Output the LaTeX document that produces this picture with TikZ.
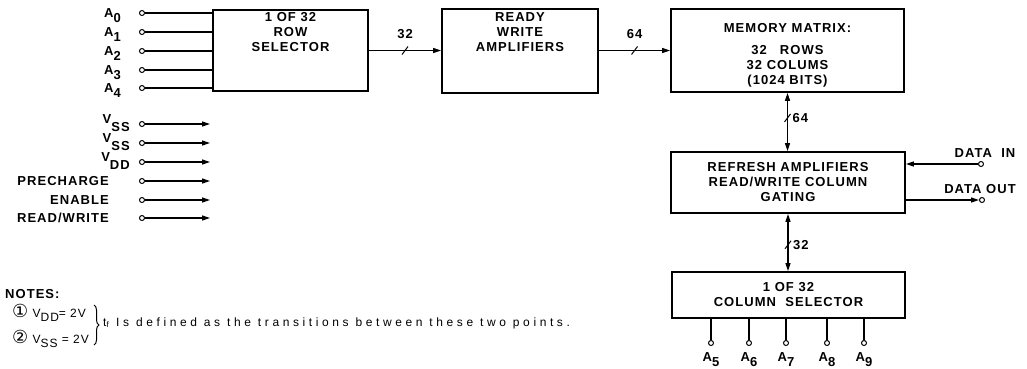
\documentclass[tikz,border=0pt]{standalone}
\usepackage{fontspec}
\setmainfont{Liberation Sans}[LetterSpace=8]
\newfontfamily\notefont{Liberation Sans}[LetterSpace=30]
\newfontfamily\symbolfont{DejaVu Sans}
\usetikzlibrary{arrows.meta, positioning, decorations.pathreplacing}
\newcommand\lowered[2][5pt]{\raisebox{-#1}{#2}}

\begin{document}
\begin{tikzpicture}[
    x=1pt, y=-1pt,
    >={Triangle[length=8pt, width=5pt]},
    font=\bfseries\fontsize{13}{15}\selectfont,
    block/.style={rectangle, draw, line width=1.8pt, align=center, inner sep=0pt},
    boxtext/.style={align=center, inner sep=0pt},
    lbl/.style={inner sep=0pt},
    notelbl/.style={inner sep=0pt, font=\mdseries\fontsize{12}{15}\selectfont},
    terminal/.style={circle, draw, line width=1pt, fill=white, inner sep=0pt, minimum size=5pt},
    wire/.style={line width=1.3pt},
    busmark/.pic={\draw[line width=1pt] (-3,4) -- (3,-4);}
]
\useasboundingbox (0,0) rectangle (1027,368);

% blocks
\node[block, minimum width=155pt, minimum height=81pt] (rowsel) at (290.5,50.5) {};
\node[boxtext, below=3pt of rowsel.north] (rowtxt) {1 OF 32\\ROW\\SELECTOR};
\node[block, minimum width=156pt, minimum height=84pt] (writeamp) at (520,51) {};
\node[boxtext, below=4pt of writeamp.north] (writetxt) {READY\\WRITE\\AMPLIFIERS};
\node[block, minimum width=233pt, minimum height=83pt] (memory) at (787.5,50.5) {};
\node[boxtext, below=15pt of memory.north] (memtxt) {MEMORY MATRIX:\\[7pt]32\quad ROWS\\32 COLUMS\\(1024 BITS)};
\node[block, minimum width=234pt, minimum height=61pt] (refresh) at (788,182.5)
    {REFRESH AMPLIFIERS\\READ/WRITE COLUMN\\GATING};
\node[block, minimum width=233pt, minimum height=46pt] (colsel) at (788.5,295)
    {1 OF 32\\COLUMN\ \ SELECTOR};

% address inputs
\foreach \i/\y in {0/13, 1/32, 2/51, 3/70, 4/88} {
    \node[terminal] (a\i) at (142,\y) {};
    \draw[wire] (a\i) -- (a\i -| rowsel.west);
    \node[lbl, anchor=base east] (alabel\i) at ([xshift=-21pt, yshift=-4pt]a\i.center) {A\lowered{\i}};
}
\foreach \n/\x in {5/711, 6/749, 7/786, 8/827, 9/864} {
    \node[terminal] (a\n) at (\x,343) {};
    \draw[wire] (a\n) -- (a\n |- colsel.south);
    \node[lbl, anchor=base] (alabel\n) at ([yshift=-18pt]a\n.center) {A\lowered{\n}};
}

% supply and control inputs
\foreach \i/\y/\txt in {1/124/SS, 2/143/SS, 3/162/DD} {
    \node[terminal] (v\i) at (142,\y) {};
    \coordinate (vend\i) at (210,\y);
    \draw[wire, ->] (v\i) -- (vend\i);
    \node[lbl, anchor=base east] (vlabel\i) at ([xshift=-12pt, yshift=1pt]v\i.center) {V\lowered[8pt]{\txt}};
}
\foreach \i/\y/\txt in {1/181/PRECHARGE, 2/200/ENABLE, 3/218/{READ/WRITE}} {
    \node[terminal] (c\i) at (142,\y) {};
    \coordinate (cend\i) at (210,\y);
    \draw[wire, ->] (c\i) -- (cend\i);
    \node[lbl, anchor=base east] (clabel\i) at ([xshift=-33pt, yshift=-4pt]c\i.center) {\txt};
}

% buses
\draw[wire, ->] (rowsel.east) -- coordinate[pos=0.5] (bus32) (rowsel.east -| writeamp.west);
\pic at (bus32) {busmark};
\node[lbl, above=12pt of bus32] (bus32lbl) {32};
\draw[wire, ->] (writeamp.east |- memory.west) -- coordinate[pos=0.5] (bus64) (memory.west);
\pic at (bus64) {busmark};
\node[lbl, above=12pt of bus64] (bus64lbl) {64};
\draw[wire, <->] (memory.south) -- coordinate[pos=0.43] (bus64v) (memory.south |- refresh.north);
\pic at (bus64v) {busmark};
\node[lbl, right=5pt of bus64v] (bus64vlbl) {64};
\draw[wire, <->] (refresh.south) -- coordinate[pos=0.54] (bus32v) (refresh.south |- colsel.north);
\pic at (bus32v) {busmark};
\node[lbl, right=5pt of bus32v] (bus32vlbl) {32};

% data
\node[terminal] (din) at (981,164) {};
\node[terminal] (dout) at (982,200) {};
\draw[wire, ->] (din) -- (din -| refresh.east);
\draw[wire, ->] (dout -| refresh.east) -- (dout);
\node[lbl, above=3pt of din, xshift=4pt] (dinlbl) {DATA\ \ IN};
\node[lbl, above=3pt of dout, xshift=-2pt] (doutlbl) {DATA OUT};

% notes
\node[lbl, anchor=west] (notes) at (5,294) {NOTES:};
\node[notelbl, anchor=base west] (note1) at (12,317) {{\symbolfont\fontsize{18}{18}\selectfont ①} V\lowered[4pt]{DD}= 2V};
\node[notelbl, anchor=base west] (note2) at (12,343) {{\symbolfont\fontsize{18}{18}\selectfont ②} V\lowered[4pt]{SS} = 2V};
\draw[decorate, decoration={brace, amplitude=5pt}, line width=1pt] (94,305) -- (94,345);
\node[notelbl, anchor=west, font=\notefont\mdseries\fontsize{12}{15}\selectfont] (notetext) at (103,323)
    {t\textsubscript{f} Is defined as the transitions between these two points.};
\end{tikzpicture}
\end{document}
